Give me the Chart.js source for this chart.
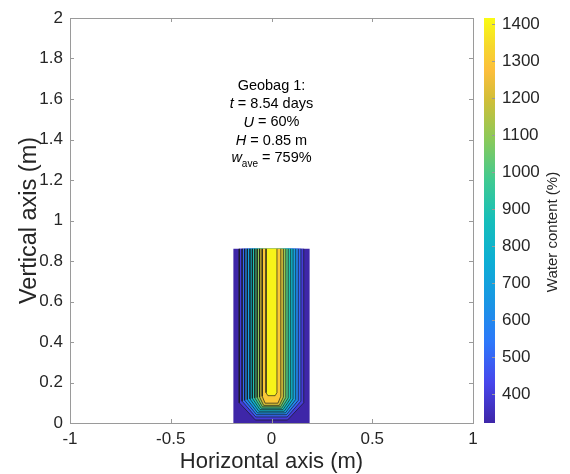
<!DOCTYPE html>
<html>
<head>
<meta charset="utf-8">
<script src="https://cdn.jsdelivr.net/npm/chart.js@4.4.1/dist/chart.umd.min.js"></script>
<style>
    html, body { margin: 0; padding: 0; background: #fff; }
    #wrap { position: relative; width: 570px; height: 474px; }
    #main { position: absolute; left: 0; top: 0; }
    #cbar { position: absolute; left: 470px; top: 0; }
</style>
</head>
<body>
<div id="wrap">
    <canvas id="main" width="570" height="474"></canvas>
    <canvas id="cbar" width="100" height="474"></canvas>
</div>
<script>
// contour levels (water content %) and the shape of each level line (m)
const levels        = [400,   500,   600,   700,   800,   900,   1000,  1100,  1200,  1300,  1400];
const sideHalfWidth = [0.160, 0.146, 0.133, 0.120, 0.107, 0.095, 0.083, 0.071, 0.059, 0.046, 0.027];
const cornerY       = [0.100, 0.108, 0.112, 0.116, 0.119, 0.122, 0.124, 0.126, 0.128, 0.132, 0.150];
const floorHalf     = [0.080, 0.078, 0.074, 0.069, 0.063, 0.057, 0.051, 0.045, 0.039, 0.032, 0.018];
const floorY        = [0.015, 0.030, 0.041, 0.050, 0.058, 0.066, 0.073, 0.080, 0.087, 0.098, 0.135];

// geobag section
const bagHalfWidth = 0.19;
const bagHeight = 0.86;

// colour limits of the colorbar
const colorLimits = [322, 1416];

// ticks
const xTicks = [-1, -0.5, 0, 0.5, 1];
const yTicks = [0, 0.2, 0.4, 0.6, 0.8, 1, 1.2, 1.4, 1.6, 1.8, 2];
const cbTicks = [400, 500, 600, 700, 800, 900, 1000, 1100, 1200, 1300, 1400];

// text box
const noteLines = [
    [{ t: 'Geobag 1:' }],
    [{ t: 't', i: true }, { t: ' = 8.54 days' }],
    [{ t: 'U', i: true }, { t: ' = 60%' }],
    [{ t: 'H', i: true }, { t: ' = 0.85 m' }],
    [{ t: 'w', i: true }, { t: 'ave', sub: true }, { t: ' = 759%' }]
];
const noteY = [1.662, 1.573, 1.484, 1.395, 1.307];

// parula-like colormap
const cmapPos = [0, 0.1, 0.2, 0.3, 0.4, 0.5, 0.6, 0.7, 0.8, 0.87, 0.93, 1];
const cmapRGB = [
    [62, 38, 168], [71, 70, 236], [45, 120, 250], [25, 150, 228], [13, 174, 212], [22, 190, 186],
    [64, 202, 145], [138, 202, 90], [210, 190, 55], [252, 190, 60], [246, 215, 45], [249, 251, 20]
];

const fontFam = '"Liberation Sans", Arial, Helvetica, sans-serif';
const txtColor = '#262626';
const boxColor = '#9a9a9a';

function parula(t) {
    t = Math.max(0, Math.min(1, t));
    for (let k = 1; k < cmapPos.length; k++) {
        if (t <= cmapPos[k]) {
            const f = (t - cmapPos[k - 1]) / (cmapPos[k] - cmapPos[k - 1]);
            const a = cmapRGB[k - 1], b = cmapRGB[k];
            const c = a.map((v, j) => Math.round(v + (b[j] - v) * f));
            return 'rgb(' + c.join(',') + ')';
        }
    }
    return 'rgb(' + cmapRGB[cmapRGB.length - 1].join(',') + ')';
}

function colorOf(v) {
    return parula((v - colorLimits[0]) / (colorLimits[1] - colorLimits[0]));
}

// datasets: bag (lowest colour), then one filled region per level
let datasets = [];
datasets.push({
    data: [{ x: -bagHalfWidth, y: bagHeight }, { x: bagHalfWidth, y: bagHeight }],
    showLine: true,
    fill: 'origin',
    backgroundColor: colorOf(colorLimits[0]),
    borderWidth: 0,
    pointRadius: 0,
    order: levels.length + 1
});
levels.forEach(function (lv, k) {
    datasets.push({
        data: [
            { x: -sideHalfWidth[k], y: bagHeight },
            { x: -sideHalfWidth[k], y: cornerY[k] },
            { x: -floorHalf[k], y: floorY[k] },
            { x: floorHalf[k], y: floorY[k] },
            { x: sideHalfWidth[k], y: cornerY[k] },
            { x: sideHalfWidth[k], y: bagHeight }
        ],
        showLine: true,
        fill: 'shape',
        backgroundColor: colorOf(lv),
        borderColor: 'rgba(25,25,25,0.85)',
        borderWidth: 0.8,
        borderCapStyle: 'butt',
        pointRadius: 0,
        order: levels.length - k
    });
});

// box round the plot with ticks pointing inwards, and the text
const boxPlugin = {
    id: 'box',
    afterDatasetsDraw(chart) {
        const ctx = chart.ctx;
        const a = chart.chartArea;
        const sx = chart.scales.x, sy = chart.scales.y;
        ctx.save();
        ctx.strokeStyle = boxColor;
        ctx.lineWidth = 1;
        ctx.strokeRect(Math.round(a.left) + 0.5, Math.round(a.top) + 0.5,
            Math.round(a.right - a.left), Math.round(a.bottom - a.top));
        ctx.beginPath();
        xTicks.forEach(function (v) {
            const px = Math.round(sx.getPixelForValue(v)) + 0.5;
            ctx.moveTo(px, a.bottom); ctx.lineTo(px, a.bottom - 4);
            ctx.moveTo(px, a.top); ctx.lineTo(px, a.top + 4);
        });
        yTicks.forEach(function (v) {
            const py = Math.round(sy.getPixelForValue(v)) + 0.5;
            ctx.moveTo(a.left, py); ctx.lineTo(a.left + 4, py);
            ctx.moveTo(a.right, py); ctx.lineTo(a.right - 4, py);
        });
        ctx.stroke();

        const cx = sx.getPixelForValue(0);
        ctx.fillStyle = '#000';
        ctx.textBaseline = 'middle';
        ctx.textAlign = 'left';
        noteLines.forEach(function (line, i) {
            const y = sy.getPixelForValue(noteY[i]);
            const fonts = line.map(p => (p.i ? 'italic ' : '') + (p.sub ? '10px ' : '14.5px ') + fontFam);
            let w = 0;
            line.forEach(function (p, j) { ctx.font = fonts[j]; w += ctx.measureText(p.t).width; });
            let x = cx - w / 2;
            line.forEach(function (p, j) {
                ctx.font = fonts[j];
                ctx.fillText(p.t, x, p.sub ? y + 6 : y);
                x += ctx.measureText(p.t).width;
            });
        });
        ctx.restore();
    }
};

new Chart(document.getElementById('main'), {
    type: 'scatter',
    data: { datasets: datasets },
    options: {
        responsive: false,
        animation: false,
        devicePixelRatio: 1,
        layout: { padding: { left: 0, right: 97, top: 18, bottom: 0 } },
        plugins: { legend: { display: false }, tooltip: { enabled: false } },
        events: [],
        scales: {
            x: {
                type: 'linear', min: -1, max: 1,
                grid: { display: false, drawTicks: false },
                border: { display: false },
                afterBuildTicks: s => { s.ticks = xTicks.map(v => ({ value: v })); },
                ticks: { padding: 6, color: txtColor, font: { family: fontFam, size: 17 },
                    callback: v => String(v) },
                title: { display: true, text: 'Horizontal axis (m)', color: txtColor,
                    font: { family: fontFam, size: 22, lineHeight: 1 }, padding: { top: 0, bottom: 1 } },
                afterFit: s => { s.height = 51; }
            },
            y: {
                type: 'linear', min: 0, max: 2,
                grid: { display: false, drawTicks: false },
                border: { display: false },
                afterBuildTicks: s => { s.ticks = yTicks.map(v => ({ value: v })); },
                ticks: { padding: 7, color: txtColor, font: { family: fontFam, size: 17 },
                    callback: v => String(v) },
                title: { display: true, text: 'Vertical axis (m)', color: txtColor,
                    font: { family: fontFam, size: 23.5, lineHeight: 1 }, padding: { top: 18, bottom: 0 } },
                afterFit: s => { s.width = 70; }
            }
        }
    },
    plugins: [boxPlugin]
});

// colorbar
function barGradient(chart) {
    const a = chart.chartArea;
    if (!a) return colorOf(colorLimits[0]);
    const g = chart.ctx.createLinearGradient(0, a.bottom, 0, a.top);
    cmapPos.forEach(function (p, k) { g.addColorStop(p, 'rgb(' + cmapRGB[k].join(',') + ')'); });
    return g;
}

const cbPlugin = {
    id: 'cbdeco',
    afterDatasetsDraw(chart) {
        const ctx = chart.ctx;
        const a = chart.chartArea;
        const sy = chart.scales.y;
        ctx.save();
        ctx.strokeStyle = boxColor;
        ctx.lineWidth = 1;
        ctx.beginPath();
        cbTicks.forEach(function (v) {
            const py = Math.round(sy.getPixelForValue(v)) + 0.5;
            ctx.moveTo(a.right, py); ctx.lineTo(a.right - 3, py);
        });
        ctx.stroke();
        ctx.translate(83, 232);
        ctx.rotate(-Math.PI / 2);
        ctx.fillStyle = txtColor;
        ctx.font = '15px ' + fontFam;
        ctx.textAlign = 'center';
        ctx.textBaseline = 'middle';
        ctx.fillText('Water content (%)', 0, 0);
        ctx.restore();
    }
};

new Chart(document.getElementById('cbar'), {
    type: 'bar',
    data: {
        labels: ['w'],
        datasets: [{
            data: [colorLimits],
            backgroundColor: c => barGradient(c.chart),
            borderWidth: 0,
            barPercentage: 1,
            categoryPercentage: 1
        }]
    },
    options: {
        responsive: false,
        animation: false,
        devicePixelRatio: 1,
        events: [],
        layout: { padding: { left: 14, right: 0, top: 18, bottom: 51 } },
        plugins: { legend: { display: false }, tooltip: { enabled: false } },
        scales: {
            x: { display: false },
            y: {
                position: 'right',
                min: colorLimits[0], max: colorLimits[1],
                grid: { display: false, drawTicks: false },
                border: { display: false },
                afterBuildTicks: s => { s.ticks = cbTicks.map(v => ({ value: v })); },
                ticks: { padding: 7, color: txtColor, font: { family: fontFam, size: 17 },
                    callback: v => String(v) },
                afterFit: s => { s.width = 75; }
            }
        }
    },
    plugins: [cbPlugin]
});
</script>
</body>
</html>
